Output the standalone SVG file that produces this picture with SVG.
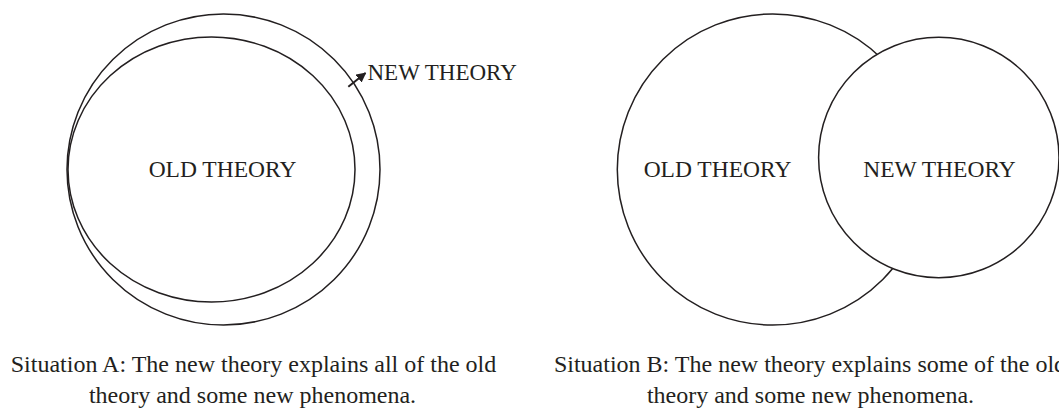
<svg xmlns="http://www.w3.org/2000/svg" width="1059" height="409" viewBox="0 0 1059 409">
  <style>
    .shape { fill: #ffffff; stroke: #231f20; stroke-width: 1.5; }
    .lbl { font-family: "Liberation Serif", "Times New Roman", serif; fill: #231f20; }
    .node { font-size: 23.5px; text-anchor: middle; }
    .cap { font-size: 24px; text-anchor: middle; }
  </style>
  <defs>
    <marker id="arrow" viewBox="0 0 10 10" refX="9" refY="5" markerWidth="5" markerHeight="5" orient="auto" markerUnits="strokeWidth">
      <path d="M0,0 L10,5 L0,10 z" fill="#231f20"/>
    </marker>
  </defs>
  <rect width="1059" height="409" fill="#ffffff"/>

  <g id="situation-a">
    <g id="a-new-theory">
      <ellipse class="shape" cx="223.5" cy="169.5" rx="156.5" ry="155.5"/>
    </g>
    <g id="a-old-theory">
      <ellipse class="shape" cx="211.5" cy="169.5" rx="143.5" ry="132.5"/>
      <text class="lbl node" x="222.5" y="177">OLD THEORY</text>
    </g>
    <g id="a-new-label">
      <text class="lbl" x="367.5" y="80" font-size="23px">NEW THEORY</text>
    </g>
  </g>

  <g id="connectors">
    <line x1="348.3" y1="86.7" x2="365.5" y2="73" stroke="#231f20" stroke-width="2" marker-end="url(#arrow)"/>
  </g>

  <g id="situation-b">
    <g id="b-old-theory">
      <circle class="shape" cx="772.8" cy="169.5" r="155.5"/>
      <text class="lbl node" x="717.5" y="177">OLD THEORY</text>
    </g>
    <g id="b-new-theory">
      <circle class="shape" cx="938.8" cy="157.5" r="120.2"/>
      <text class="lbl node" x="939.5" y="177">NEW THEORY</text>
    </g>
  </g>

  <g id="captions">
    <text class="lbl cap" x="253.5" y="372">Situation A: The new theory explains all of the old</text>
    <text class="lbl cap" x="252.5" y="403">theory and some new phenomena.</text>
    <text class="lbl cap" x="810" y="372">Situation B: The new theory explains some of the old</text>
    <text class="lbl cap" x="810.5" y="403">theory and some new phenomena.</text>
  </g>
</svg>
